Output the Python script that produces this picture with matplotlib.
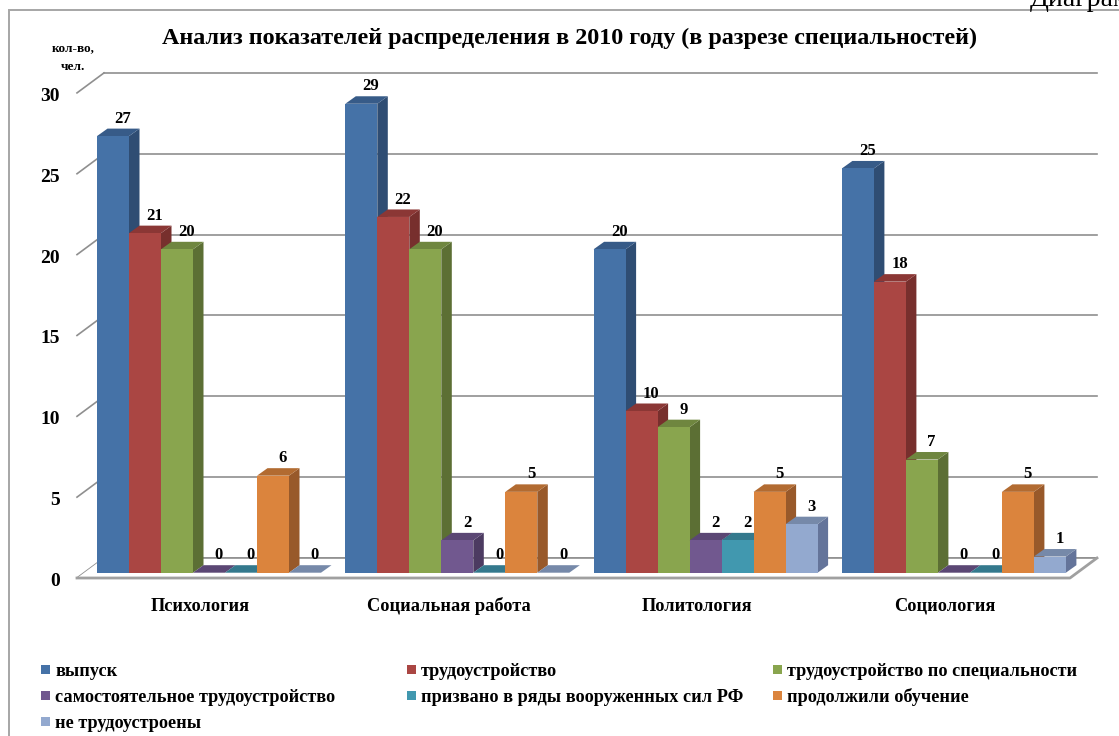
import matplotlib
matplotlib.use("Agg")
import matplotlib.pyplot as plt
from matplotlib.patches import Polygon, Rectangle

plt.rcParams["font.family"] = ["Liberation Serif", "DejaVu Serif"]

W, H = 1119, 736

categories = ["Психология", "Социальная работа", "Политология", "Социология"]
series_names = [
    "выпуск",
    "трудоустройство",
    "трудоустройство по специальности",
    "самостоятельное трудоустройство",
    "призвано в ряды вооруженных сил РФ",
    "продолжили обучение",
    "не трудоустроены",
]
vypusk = [27, 29, 20, 25]
trud = [21, 22, 10, 18]
trud_spec = [20, 20, 9, 7]
samost = [0, 2, 2, 0]
armiya = [0, 0, 2, 0]
obuchenie = [6, 5, 5, 5]
ne_trud = [0, 0, 3, 1]
series = [vypusk, trud, trud_spec, samost, armiya, obuchenie, ne_trud]

front_colors = ["#4572a7", "#aa4643", "#89a54e", "#71588f", "#4198af", "#db843d", "#93a9cf"]
side_colors = ["#2f4d73", "#772f2d", "#5c6f34", "#4c3b61", "#2c6677", "#98592a", "#64749a"]
top_colors = ["#375b88", "#8b3735", "#6f863f", "#5b4774", "#34798d", "#b26b31", "#7689a9"]

yticks = [0, 5, 10, 15, 20, 25, 30]

# pixel geometry of the fake 3d box, converted to data units below
PX_PER_VAL = 16.17
PX_PER_GROUP = 248.3
BASE_PX = 572.7
FIRST_BAR_PX = 97


def x_data(px):
    return (px - FIRST_BAR_PX) / PX_PER_GROUP


def y_data(py):
    return (BASE_PX - py) / PX_PER_VAL


bar_w = 32 / PX_PER_GROUP
depth_x = 10.5 / PX_PER_GROUP
depth_y = 7.5 / PX_PER_VAL
wall_y = y_data(558)
floor_y = y_data(578)

fig = plt.figure(figsize=(W / 100, H / 100), dpi=100, facecolor="white")
ax = fig.add_axes([0, 0, 1, 1])
ax.set_xlim(x_data(0), x_data(W))
ax.set_ylim(y_data(H), y_data(0))
ax.axis("off")

GRID = "#8f8f8f"
wall_l, wall_r = x_data(104), x_data(1097)
floor_l, floor_r = x_data(77), x_data(1070)

# chart frame runs off the top right and bottom of the picture
ax.add_patch(Rectangle((x_data(9), y_data(745)), x_data(1140) - x_data(9), y_data(9.5) - y_data(745),
                       fill=False, ec="#a6a6a6", lw=1.4))

for v in yticks:
    ax.plot([wall_l, wall_r], [v + wall_y, v + wall_y], color=GRID, lw=1.2, zorder=1)
    ax.plot([floor_l, wall_l], [v + floor_y, v + wall_y], color=GRID, lw=1.2, zorder=1)
    ax.text(x_data(60), v + floor_y - 3.5 / PX_PER_VAL, str(v), ha="right", va="center",
            fontsize=14, fontweight="bold")

# floor
ax.add_patch(Polygon([(floor_l, floor_y), (floor_r, floor_y), (wall_r, wall_y), (wall_l, wall_y)],
                     closed=True, fc="white", ec="none", zorder=1.5))
ax.plot([wall_l, wall_r], [wall_y, wall_y], color=GRID, lw=1.2, zorder=1.6)
ax.plot([floor_l, floor_r, wall_r], [floor_y, floor_y, wall_y], color="#a0a0a0", lw=2, zorder=1.6)

for s, values in enumerate(series):
    for g, v in enumerate(values):
        x0 = g + s * bar_w
        x1 = x0 + bar_w
        ax.bar(x0, v, width=bar_w, align="edge", color=front_colors[s], zorder=3 + s * 0.1)
        ax.add_patch(Polygon([(x1, 0), (x1 + depth_x, depth_y), (x1 + depth_x, v + depth_y), (x1, v)],
                             closed=True, fc=side_colors[s], ec="none", zorder=2.9 + s * 0.1))
        ax.add_patch(Polygon([(x0, v), (x0 + depth_x, v + depth_y), (x1 + depth_x, v + depth_y), (x1, v)],
                             closed=True, fc=top_colors[s], ec="none", zorder=2.95 + s * 0.1))
        ax.annotate(str(v), (x0 + bar_w / 2, v), xytext=(7, 12.5), textcoords="offset points",
                    ha="center", va="center", fontsize=12, fontweight="bold", zorder=6)

for g, name in enumerate(categories):
    ax.text(g + 7 * bar_w / 2 - 0.035, y_data(611), name, ha="center", va="baseline",
            fontsize=13.2, fontweight="bold")

ax.text(x_data(569), y_data(38), "Анализ показателей распределения в 2010 году (в разрезе специальностей)",
        ha="center", va="center", fontsize=17.4, fontweight="bold")
ax.text(x_data(73), y_data(51), "кол-во,", ha="center", va="baseline", fontsize=9.5, fontweight="bold")
ax.text(x_data(73), y_data(70), "чел.", ha="center", va="baseline", fontsize=9.5, fontweight="bold")
ax.text(x_data(1030), y_data(6), "Диаграмма", ha="left", va="baseline", fontsize=20)

# legend laid out by hand, rows fill left to right
legend_cols = [41, 407, 773]
legend_rows = [670, 696, 722]
for i, name in enumerate(series_names):
    lx = legend_cols[i % 3]
    ly = legend_rows[i // 3]
    ax.add_patch(Rectangle((x_data(lx), y_data(ly + 4)), 9 / PX_PER_GROUP, 9 / PX_PER_VAL,
                           fc=front_colors[i], ec="none"))
    ax.text(x_data(lx + 14), y_data(ly + 5.5), name, ha="left", va="baseline", fontsize=13.15, fontweight="bold")

fig.savefig("out.png", dpi=100)
